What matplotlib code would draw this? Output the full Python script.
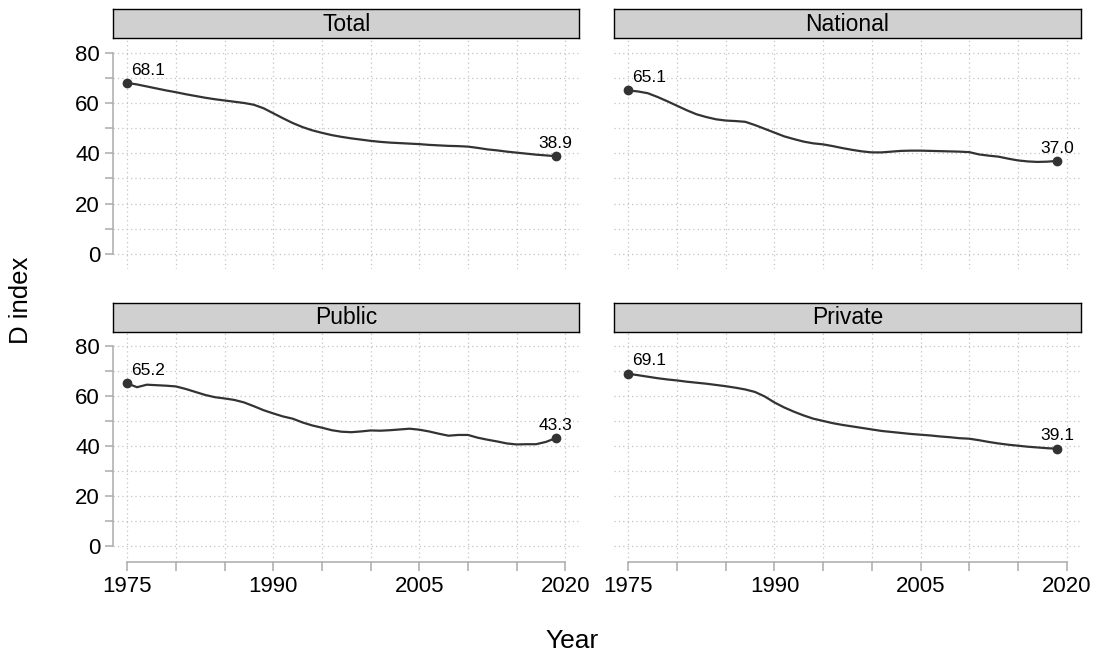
import matplotlib

matplotlib.use("Agg")
import matplotlib.pyplot as plt

plt.rcParams["font.family"] = ["Liberation Sans", "DejaVu Sans"]

years = list(range(1975, 2020))

total = [
    68.1, 67.5, 66.7, 65.9, 65.1, 64.4, 63.6, 62.9, 62.2, 61.6,
    61.1, 60.6, 60.1, 59.4, 58.0, 56.0, 54.0, 52.1, 50.5, 49.2,
    48.2, 47.3, 46.6, 46.0, 45.5, 45.0, 44.6, 44.3, 44.1, 43.9,
    43.7, 43.4, 43.2, 43.0, 42.9, 42.7, 42.2, 41.6, 41.2, 40.7,
    40.3, 39.9, 39.5, 39.2, 38.9,
]
national = [
    65.1, 64.7, 64.0, 62.5, 60.8, 59.0, 57.2, 55.6, 54.5, 53.6,
    53.1, 52.9, 52.6, 51.3, 49.8, 48.3, 46.8, 45.7, 44.7, 44.0,
    43.6, 42.9, 42.1, 41.4, 40.8, 40.4, 40.4, 40.7, 41.0, 41.1,
    41.1, 41.0, 40.9, 40.8, 40.7, 40.5, 39.6, 39.1, 38.7, 37.9,
    37.2, 36.8, 36.6, 36.7, 37.0,
]
public = [
    65.2, 63.7, 64.7, 64.5, 64.3, 64.0, 63.0, 61.8, 60.6, 59.7,
    59.2, 58.6, 57.6, 56.1, 54.5, 53.2, 52.0, 51.1, 49.6, 48.4,
    47.5, 46.5, 45.9, 45.7, 46.0, 46.4, 46.3, 46.5, 46.8, 47.1,
    46.7, 46.0, 45.1, 44.3, 44.6, 44.6, 43.5, 42.7, 42.0, 41.2,
    40.8, 40.9, 40.9, 41.8, 43.3,
]
private = [
    69.1, 68.5, 67.9, 67.3, 66.8, 66.4, 65.9, 65.5, 65.1, 64.6,
    64.1, 63.5, 62.8, 61.8, 60.0, 57.6, 55.6, 53.9, 52.4, 51.1,
    50.2, 49.3, 48.6, 48.0, 47.4, 46.8, 46.2, 45.8, 45.4, 45.0,
    44.7, 44.4, 44.0, 43.7, 43.3, 43.1, 42.5, 41.8, 41.2, 40.7,
    40.3, 39.9, 39.6, 39.3, 39.1,
]

panel_titles = ["Total", "National", "Public", "Private"]
x_ticks = list(range(1975, 2021, 5))
x_labels = ["1975", "1990", "2005", "2020"]
y_ticks = list(range(0, 81, 10))
y_labels = ["0", "20", "40", "60", "80"]

W, H = 1099, 656
LINE_COLOR = "#333333"
AXIS_COLOR = "#ababab"
GRID_COLOR = "#c4c4c4"


def _rect(x0, y0, x1, y1):
    """像素坐标 (左上原点) 转为 figure 比例坐标。"""
    return [x0 / W, 1 - y1 / H, (x1 - x0) / W, (y1 - y0) / H]


fig = plt.figure(figsize=(W / 100, H / 100), dpi=100)

cols = [(113.3, 579.3), (614.3, 1080.7)]
rows = [((9.0, 38.3), (38.3, 269.0)), ((302.7, 331.7), (331.7, 561.7))]
series = [total, national, public, private]

for idx, values in enumerate(series):
    r, c = divmod(idx, 2)
    x0, x1 = cols[c]
    (s0, s1), (p0, p1) = rows[r]

    ax = fig.add_axes(_rect(x0, p0, x1, p1))
    ax.set_xlim(1973.56, 2021.44)
    ax.set_ylim(-6.1, 85.9)

    ax.plot(years, values, color=LINE_COLOR, linewidth=1.6, zorder=3)
    ax.plot([years[0], years[-1]], [values[0], values[-1]], "o",
            color=LINE_COLOR, markersize=6, zorder=4)
    ax.annotate(f"{values[0]:.1f}", (years[0], values[0]), xytext=(3, 6),
                textcoords="offset points", ha="left", va="baseline", fontsize=12.5)
    ax.annotate(f"{values[-1]:.1f}", (years[-1], values[-1]), xytext=(0, 6),
                textcoords="offset points", ha="center", va="baseline", fontsize=12.5)

    ax.set_xticks(x_ticks)
    ax.set_yticks(y_ticks)
    ax.grid(True, linestyle=(0, (1, 2.5)), color=GRID_COLOR, linewidth=0.9, zorder=0)
    ax.set_axisbelow(True)

    for side in ["top", "right"]:
        ax.spines[side].set_visible(False)

    if c == 0:
        ax.spines["left"].set_bounds(0, 80)
        ax.spines["left"].set_color(AXIS_COLOR)
        ax.spines["left"].set_linewidth(1.1)
        ax.set_yticklabels([y_labels[i // 2] if i % 2 == 0 else "" for i in range(len(y_ticks))])
        ax.tick_params(axis="y", length=6, width=1.1, color=AXIS_COLOR, pad=3.5,
                       labelsize=16, labelcolor="black")
    else:
        ax.spines["left"].set_visible(False)
        ax.tick_params(axis="y", length=0, labelleft=False)

    if r == 1:
        ax.spines["bottom"].set_bounds(1975, 2020)
        ax.spines["bottom"].set_color(AXIS_COLOR)
        ax.spines["bottom"].set_linewidth(1.1)
        ax.set_xticklabels([str(t) if (t - 1975) % 15 == 0 else "" for t in x_ticks])
        ax.tick_params(axis="x", length=6.5, width=1.1, color=AXIS_COLOR, pad=4,
                       labelsize=16, labelcolor="black")
    else:
        ax.spines["bottom"].set_visible(False)
        ax.tick_params(axis="x", length=0, labelbottom=False)

    # 分面标题条
    strip = fig.add_axes(_rect(x0, s0, x1, s1))
    strip.set_facecolor("#d0d0d0")
    strip.set_xticks([])
    strip.set_yticks([])
    for sp in strip.spines.values():
        sp.set_color("black")
        sp.set_linewidth(1.0)
    strip.text(0.5, 0.48, panel_titles[idx], ha="center", va="center", fontsize=16.5,
               transform=strip.transAxes)

fig.text(21.5 / W, 1 - 300 / H, "D index", rotation=90, ha="center", va="center", fontsize=18.5)
fig.text(572.5 / W, 1 - 648 / H, "Year", ha="center", va="baseline", fontsize=19)

fig.savefig("out.png", dpi=100)
